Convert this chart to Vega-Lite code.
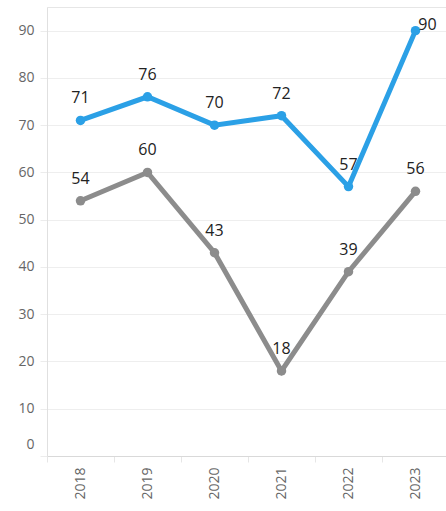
{
  "$schema": "https://vega.github.io/schema/vega-lite/v6.json",
  "autosize": "none",
  "width": 402,
  "height": 449,
  "padding": {"left": 47, "top": 7, "right": 0, "bottom": 55},
  "config": {
    "view": {"stroke": "#e6e6e6", "strokeWidth": 1},
    "font": "Open Sans"
  },
  "data": {
    "values": [
      {"year": "2018", "series": "A", "value": 71},
      {"year": "2019", "series": "A", "value": 76},
      {"year": "2020", "series": "A", "value": 70},
      {"year": "2021", "series": "A", "value": 72},
      {"year": "2022", "series": "A", "value": 57},
      {"year": "2023", "series": "A", "value": 90},
      {"year": "2018", "series": "B", "value": 54},
      {"year": "2019", "series": "B", "value": 60},
      {"year": "2020", "series": "B", "value": 43},
      {"year": "2021", "series": "B", "value": 18},
      {"year": "2022", "series": "B", "value": 39},
      {"year": "2023", "series": "B", "value": 56}
    ]
  },
  "encoding": {
    "x": {
      "field": "year", "type": "ordinal",
      "scale": {"paddingInner": 0, "paddingOuter": 0},
      "axis": {
        "title": null, "labelAngle": -90, "labelFontSize": 14, "labelColor": "#666666",
        "labelPadding": 5, "domainColor": "#d9d9d9", "tickColor": "#e6e6e6", "tickSize": 6,
        "tickBand": "extent", "grid": false
      }
    },
    "y": {
      "field": "value", "type": "quantitative",
      "scale": {"domain": [0, 95], "nice": false, "zero": true},
      "axis": {
        "title": null, "values": [0, 10, 20, 30, 40, 50, 60, 70, 80, 90],
        "labelFontSize": 14, "labelColor": "#666666", "labelFlush": true, "labelFlushOffset": -5,
        "labelPadding": 6, "domainColor": "#e0e0e0", "tickColor": "#ececec", "tickSize": 7,
        "gridColor": "#eeeeee"
      }
    },
    "color": {
      "field": "series", "type": "nominal", "legend": null,
      "scale": {"domain": ["A", "B"], "range": ["#2ba0e6", "#8c8c8c"]}
    }
  },
  "layer": [
    {"mark": {"type": "line", "strokeWidth": 5, "point": {"filled": true, "size": 90}}},
    {
      "transform": [{"filter": "datum.value != 90"}],
      "mark": {"type": "text", "dy": -22, "fontSize": 16, "color": "#222222"},
      "encoding": {
        "text": {"field": "value", "type": "quantitative"},
        "color": {"value": "#222222"}
      }
    },
    {
      "transform": [{"filter": "datum.value == 90"}],
      "mark": {"type": "text", "dx": 12, "dy": -6, "fontSize": 16, "color": "#222222"},
      "encoding": {
        "text": {"field": "value", "type": "quantitative"},
        "color": {"value": "#222222"}
      }
    }
  ]
}
